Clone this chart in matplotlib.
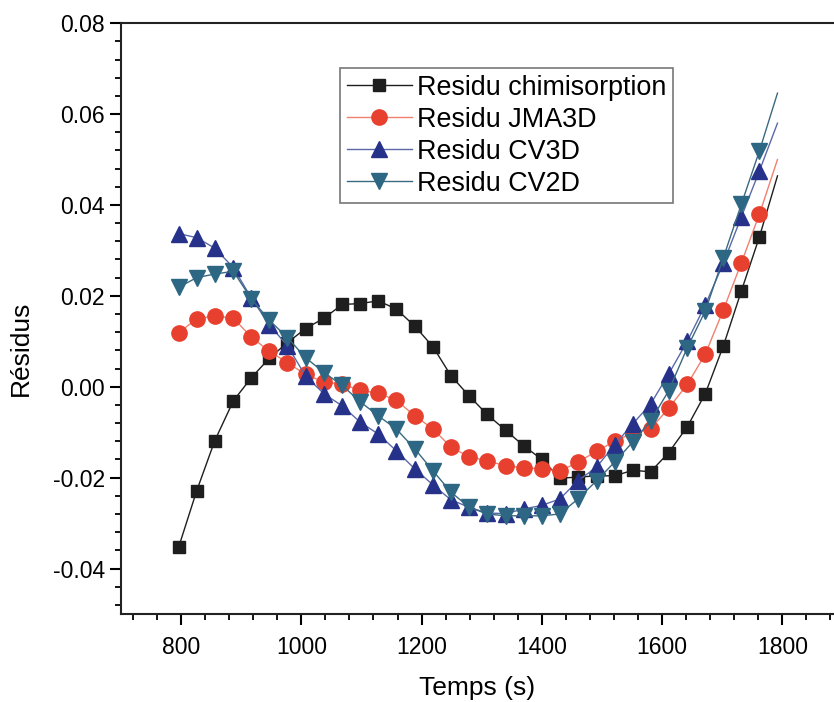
import numpy as np
import matplotlib
matplotlib.use('Agg')
import matplotlib.pyplot as plt
from matplotlib.ticker import MultipleLocator, FormatStrFormatter

plt.rcParams['font.family'] = ['Liberation Sans', 'DejaVu Sans']
plt.rcParams['axes.unicode_minus'] = False

# temps (s)
temps = [796, 826, 856, 887, 917, 947, 977, 1007, 1038, 1068, 1098, 1128,
         1158, 1189, 1219, 1249, 1279, 1309, 1340, 1370, 1400, 1430, 1460,
         1491, 1521, 1551, 1581, 1611, 1642, 1672, 1702, 1732, 1762, 1792]

res_chimi = [-0.0353, -0.0229, -0.0119, -0.0031, 0.0020, 0.0063, 0.0097, 0.0128,
             0.0151, 0.0181, 0.0183, 0.0189, 0.0171, 0.0133, 0.0088, 0.0024,
             -0.0020, -0.0061, -0.0096, -0.0130, -0.0160, -0.0201, -0.0199,
             -0.0196, -0.0196, -0.0184, -0.0187, -0.0145, -0.0088, -0.0015,
             0.0090, 0.0211, 0.0330, 0.0464]

res_jma3d = [0.0119, 0.0149, 0.0156, 0.0151, 0.0109, 0.0078, 0.0053, 0.0027,
             0.0010, 0.0006, -0.0008, -0.0014, -0.0030, -0.0064, -0.0093,
             -0.0133, -0.0154, -0.0163, -0.0174, -0.0178, -0.0181, -0.0186,
             -0.0166, -0.0142, -0.0120, -0.0102, -0.0093, -0.0047, 0.0005,
             0.0072, 0.0169, 0.0273, 0.0380, 0.0500]

res_cv3d = [0.0337, 0.0328, 0.0305, 0.0262, 0.0195, 0.0136, 0.0090, 0.0024,
            -0.0016, -0.0042, -0.0078, -0.0104, -0.0141, -0.0181, -0.0216,
            -0.0249, -0.0265, -0.0278, -0.0279, -0.0269, -0.0261, -0.0247,
            -0.0207, -0.0177, -0.0128, -0.0082, -0.0038, 0.0028, 0.0100,
            0.0180, 0.0272, 0.0374, 0.0475, 0.0580]

res_cv2d = [0.0219, 0.0240, 0.0248, 0.0254, 0.0193, 0.0146, 0.0108, 0.0064,
            0.0031, 0.0003, -0.0033, -0.0064, -0.0093, -0.0137, -0.0185,
            -0.0232, -0.0265, -0.0280, -0.0284, -0.0284, -0.0284, -0.0280,
            -0.0247, -0.0207, -0.0166, -0.0122, -0.0075, -0.0009, 0.0086,
            0.0167, 0.0284, 0.0402, 0.0519, 0.0646]

fig = plt.figure(figsize=(8.34, 7.02), dpi=100)
ax = fig.add_axes([0.145, 0.1254, 0.855, 0.8416])

# last point has no marker (line only)
mk = list(range(len(temps) - 1))

ax.plot(temps, res_chimi, color='#1e1e1e', lw=1.0, marker='s', ms=9,
        markevery=mk, label='Residu chimisorption')
ax.plot(temps, res_jma3d, color='#f08070', lw=1.0, marker='o', ms=11,
        mfc='#e8402e', mec='#e8402e', markevery=mk, label='Residu JMA3D')
ax.plot(temps, res_cv3d, color='#5a6aa8', lw=1.0, marker='^', ms=11,
        mfc='#26328a', mec='#26328a', markevery=mk, label='Residu CV3D')
ax.plot(temps, res_cv2d, color='#3a6a80', lw=1.0, marker='v', ms=11,
        mfc='#2d6783', mec='#2d6783', markevery=mk, label='Residu CV2D')

ax.set_xlim(700, 1886)
ax.set_ylim(-0.05, 0.08)

ax.xaxis.set_major_locator(MultipleLocator(200))
ax.xaxis.set_minor_locator(MultipleLocator(40))
ax.yaxis.set_major_locator(MultipleLocator(0.02))
ax.yaxis.set_minor_locator(MultipleLocator(0.004))
ax.yaxis.set_major_formatter(FormatStrFormatter('%.2f'))

ax.tick_params(which='major', direction='out', length=8, width=1.5,
               top=False, right=False)
ax.tick_params(which='minor', direction='out', length=4, width=1.3,
               top=False, right=False)
ax.tick_params(axis='x', labelsize=16.5, pad=8)
ax.tick_params(axis='y', labelsize=16.5)

ax.spines['right'].set_visible(False)
for s in ['left', 'bottom', 'top']:
    ax.spines[s].set_linewidth(1.5)
    ax.spines[s].set_color('#222222')

ax.set_xlabel('Temps (s)', fontsize=19, labelpad=12)
ax.set_ylabel('Résidus', fontsize=19, labelpad=10)
ax.yaxis.set_label_coords(-0.123, 0.45)

leg = ax.legend(loc='upper left', bbox_to_anchor=(0.408, 0.903),
                bbox_transform=fig.transFigure, fontsize=19.4, numpoints=1,
                frameon=True, fancybox=False, handlelength=2.4,
                handletextpad=0.2, borderpad=0.25, labelspacing=0.22,
                borderaxespad=0)
leg.get_frame().set_edgecolor('#555555')
leg.get_frame().set_linewidth(1.2)

fig.savefig('out.png', dpi=100)
